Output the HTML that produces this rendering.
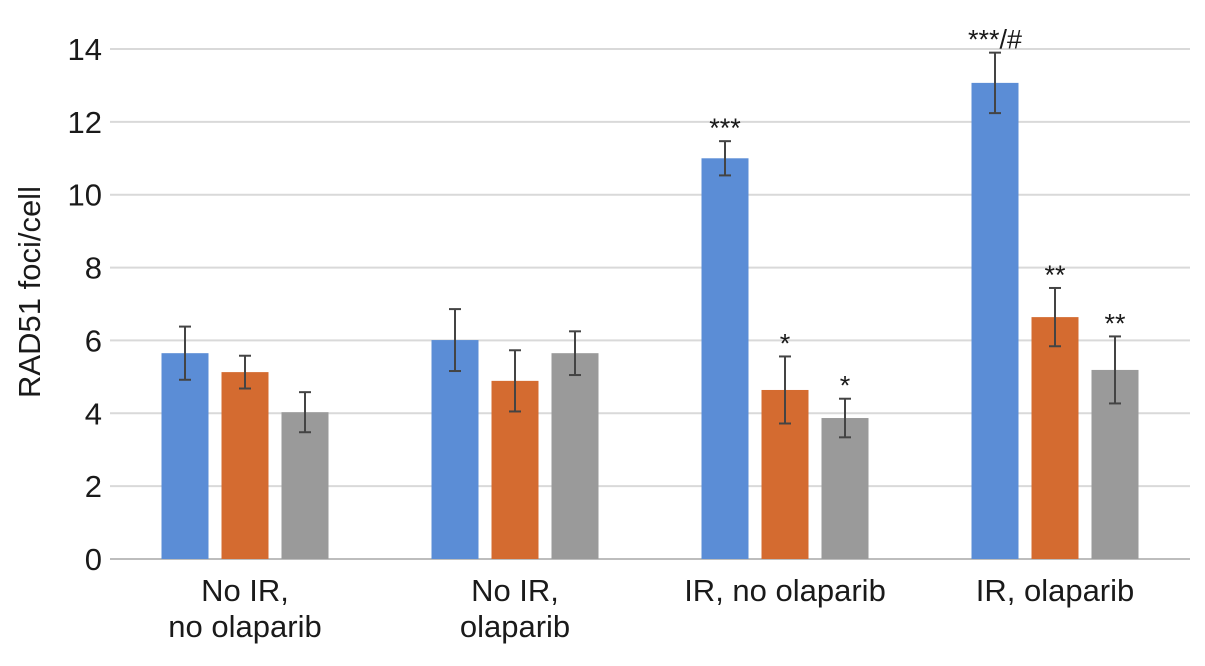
<!DOCTYPE html>
<html><head><meta charset="utf-8"><style>
body{margin:0;background:#fff;width:1205px;height:661px;overflow:hidden}
text{font-family:"Liberation Sans",Arial,sans-serif;fill:#1a1a1a}
</style></head><body>
<svg id="chart" width="1205" height="661" xmlns="http://www.w3.org/2000/svg"></svg>
<script>
const categories=[["No IR,","no olaparib"],["No IR,","olaparib"],["IR, no olaparib"],["IR, olaparib"]];
const seriesA=[5.65,6.01,11.0,13.07];
const seriesB=[5.13,4.89,4.64,6.64];
const seriesC=[4.03,5.65,3.87,5.19];
const errA=[0.73,0.85,0.47,0.83];
const errB=[0.45,0.84,0.92,0.8];
const errC=[0.55,0.6,0.53,0.92];
const sigA=["","","***","***/#"];
const sigB=["","","*","**"];
const sigC=["","","*","**"];
const yTicks=[0,2,4,6,8,10,12,14];
const NS="http://www.w3.org/2000/svg";
const svg=document.getElementById('chart');
const x0=110,x1=1190,y0=559,yTop=49,yMax=14;
const y=v=>y0-(y0-yTop)*v/yMax;
const gw=(x1-x0)/categories.length;
const gc=i=>x0+gw*(i+0.5);
function mk(t,a){const e=document.createElementNS(NS,t);for(const k in a)e.setAttribute(k,a[k]);svg.appendChild(e);return e;}
yTicks.forEach(t=>{
 const l=mk('line',{x1:x0,x2:x1,y1:y(t),y2:y(t),stroke:t===0?'#bdbdbd':'#d9d9d9','stroke-width':2});
 
 
 const tx=mk('text',{x:102,y:y(t)+11,'text-anchor':'end','font-size':31});
 tx.textContent=t;
 
 
});
const yt=mk('text',{x:0,y:0,'font-size':31,'text-anchor':'middle',transform:'translate(40,292) rotate(-90)'});
yt.textContent='RAD51 foci/cell';


const series=[[seriesA,errA,sigA,'#5b8dd6','a'],[seriesB,errB,sigB,'#d46b30','b'],[seriesC,errC,sigC,'#9a9a9a','c']];
const bw=47,off=60;
categories.forEach((c,i)=>{
 series.forEach((s,j)=>{
  const cx=gc(i)+(j-1)*off,v=s[0][i],e=s[1][i];
  const r=mk('rect',{x:cx-bw/2,y:y(v),width:bw,height:y0-y(v),fill:s[3]});
  
  
  const g=document.createElementNS(NS,'g');svg.appendChild(g);
  
  
  [[cx,cx,y(v+e),y(v-e)],[cx-6,cx+6,y(v+e),y(v+e)],[cx-6,cx+6,y(v-e),y(v-e)]].forEach(p=>{
   const l=document.createElementNS(NS,'line');
   l.setAttribute('x1',p[0]);l.setAttribute('x2',p[1]);l.setAttribute('y1',p[2]);l.setAttribute('y2',p[3]);
   l.setAttribute('stroke','#444');l.setAttribute('stroke-width',2);g.appendChild(l);
  });
  if(s[2][i]){
   const t=mk('text',{x:cx,y:y(v+e)-4,'text-anchor':'middle','font-size':27});
   t.textContent=s[2][i];
   
   
  }
 });
 c.forEach((ln,k)=>{
  const t=mk('text',{x:gc(i),y:601+k*36,'text-anchor':'middle','font-size':31});
  t.textContent=ln;
  
  
 });
});
</script>
</body></html>
